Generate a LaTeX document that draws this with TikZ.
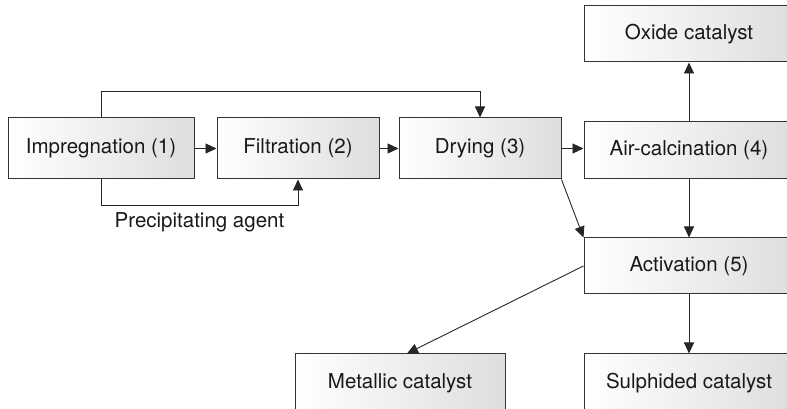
\documentclass[tikz,border=0pt]{standalone}
\usepackage{fontspec}
\setmainfont{TeX Gyre Heros}
\usepackage{tikz}
\usetikzlibrary{arrows.meta,positioning}

\begin{document}
\begin{tikzpicture}[>={Triangle[length=11pt,width=10pt]},x=1pt,y=1pt,
  box/.style={draw=black!80,line width=1pt,left color=white,right color=black!13,
    text=black!90,minimum height=61pt,minimum width=210pt,
    font=\fontsize{20.5}{24}\selectfont},
  link/.style={->,draw=black!85,line width=0.9pt}]

  \useasboundingbox (0,0) rectangle (787,409);
  \clip (0,0) rectangle (787,409);

  % Stages
  \node[box,minimum width=186pt] (imp) at (101,260.5) {Impregnation (1)};
  \node[box,minimum width=162pt,right=22pt of imp] (fil) {Filtration (2)};
  \node[box,minimum width=162pt,right=19pt of fil] (dry) {Drying (3)};
  \node[box,minimum height=57pt,right=22pt of dry,yshift=-2pt] (air) {Air-calcination (4)};
  \node[box,minimum height=56pt,above=59pt of air] (oxi) {Oxide catalyst};
  \node[box,minimum height=56pt,below=58pt of air] (act) {Activation (5)};
  \node[box,minimum height=58pt,below=59pt of act] (sul) {Sulphided catalyst};
  \node[box,minimum height=58pt,left=78pt of sul] (met) {Metallic catalyst};

  % Flows
  \draw[link] (imp) -- (fil);
  \draw[link] (fil) -- (dry);
  \draw[link] (dry.east) -- (dry.east -| air.west);
  \draw[link] (imp.north) -- ++(0,26) -| (dry.north);
  \draw[link] (imp.south) -- ++(0,-26) -| node[pos=0.25,below,yshift=-3pt,
    font=\fontsize{20.5}{24}\selectfont,text=black!90] {Precipitating agent} (fil.south);
  \draw[link] (air) -- (oxi);
  \draw[link] (air) -- (act);
  \draw[link] (dry.south east) -- (act.north west);
  \draw[link] (act.west) -- ([xshift=7pt]met.north);
  \draw[link] (act) -- (sul);

\end{tikzpicture}
\end{document}
